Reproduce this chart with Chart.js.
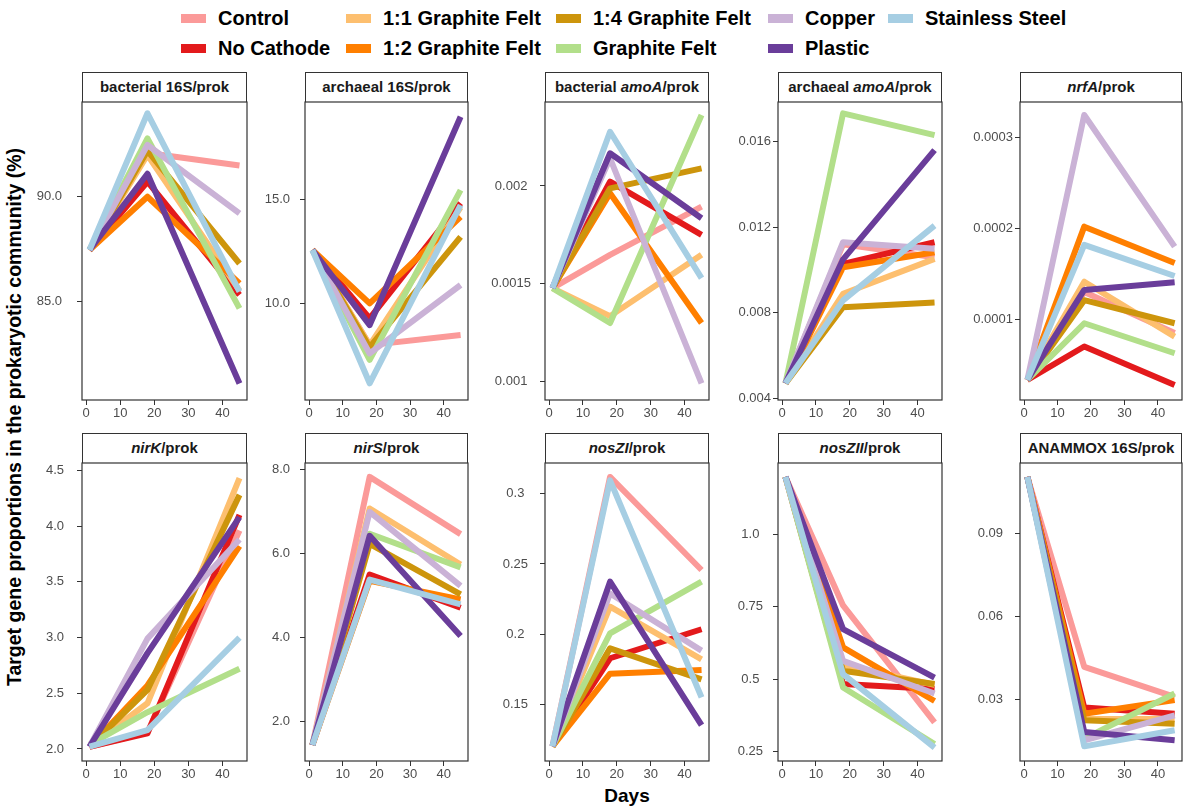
<!DOCTYPE html>
<html>
<head>
<meta charset="utf-8">
<script src="https://cdn.jsdelivr.net/npm/chart.js@4.4.1/dist/chart.umd.min.js"></script>
<style>
  body {
    margin: 0;
    width: 1184px;
    height: 807px;
    background: #fff;
    position: relative;
    overflow: hidden;
    font-family: "Liberation Sans", Arial, sans-serif;
  }
  .strip {
    position: absolute;
    box-sizing: border-box;
    border: 1.2px solid #333;
    border-bottom: none;
    background: #fff;
    font-weight: bold;
    font-size: 15px;
    line-height: 28px;
    text-align: center;
    color: #1a1a1a;
  }
  .panel { position: absolute; }
  .key { position: absolute; width: 25px; height: 9px; }
  .keylab { position: absolute; font-weight: bold; font-size: 20px; line-height: 22px; color: #000; white-space: nowrap; }
  #ytitle {
    position: absolute;
    left: 14px;
    top: 417px;
    transform: translate(-50%, -50%) rotate(-90deg);
    font-weight: bold;
    font-size: 19.5px;
    white-space: nowrap;
  }
  #xtitle {
    position: absolute;
    left: 627px;
    top: 796px;
    transform: translate(-50%, -50%);
    font-weight: bold;
    font-size: 19px;
  }
</style>
</head>
<body>
<div id="legend"></div>
<div id="ytitle">Target gene proportions in the prokaryotic community (%)</div>
<div id="xtitle">Days</div>
<script>
const days = [1, 18, 45];
const treatments = [
  "Control", "No Cathode", "1:1 Graphite Felt", "1:2 Graphite Felt",
  "1:4 Graphite Felt", "Graphite Felt", "Copper", "Plastic", "Stainless Steel",
];
const palette = [
  "#fb9a99", "#e31a1c", "#fdbf6f", "#ff7f00",
  "#cd950c", "#b2df8a", "#cab2d6", "#6a3d9a", "#a6cee3",
];

// rows follow the treatments order, columns follow days
const bacterial16S = [
  [87.45, 92.1, 91.5], [87.45, 90.72, 85.3], [87.45, 92.0, 85.5],
  [87.45, 90.0, 85.85], [87.45, 92.2, 86.8], [87.45, 92.8, 84.65],
  [87.45, 92.48, 89.2], [87.45, 91.1, 81.05], [87.45, 94.0, 85.45],
];
const archaeal16S = [
  [12.56, 8.0, 8.48], [12.56, 9.28, 14.8], [12.56, 8.0, 14.6],
  [12.56, 10.0, 14.15], [12.56, 7.9, 13.19], [12.56, 7.29, 15.43],
  [12.56, 7.6, 10.88], [12.56, 8.96, 18.94], [12.56, 6.17, 14.71],
];
const bacterialAmoA = [
  [0.001478, 0.001648, 0.001894], [0.001478, 0.002022, 0.00175],
  [0.001478, 0.001335, 0.001648], [0.001478, 0.001963, 0.0013],
  [0.001478, 0.001988, 0.00209], [0.001478, 0.0013, 0.002363],
  [0.001478, 0.002141, 0.000992], [0.001478, 0.002167, 0.001835],
  [0.001478, 0.002277, 0.001529],
];
const archaealAmoA = [
  [0.0047, 0.0112, 0.0106], [0.0047, 0.01029, 0.0113],
  [0.0047, 0.00889, 0.01052], [0.0047, 0.01013, 0.01083],
  [0.0047, 0.00826, 0.00848], [0.0047, 0.01733, 0.01631],
  [0.0047, 0.0113, 0.01099], [0.0047, 0.0105, 0.01561],
  [0.0047, 0.00858, 0.01208],
];
const nrfA = [
  [0.0000332, 0.00013, 0.000085], [0.0000332, 0.00007, 0.0000276],
  [0.0000332, 0.0001414, 0.0000809], [0.0000332, 0.000202, 0.000162],
  [0.0000332, 0.000121, 0.0000956], [0.0000332, 0.0000956, 0.0000626],
  [0.0000332, 0.000325, 0.00018], [0.0000332, 0.0001323, 0.0001408],
  [0.0000332, 0.000182, 0.0001477],
];
const nirK = [
  [2.02, 2.15, 3.96], [2.02, 2.14, 4.1], [2.02, 2.41, 4.43],
  [2.02, 2.57, 3.82], [2.02, 2.53, 4.28], [2.04, 2.33, 2.72],
  [2.02, 2.99, 3.88], [2.02, 2.86, 4.08], [2.02, 2.17, 3.0],
];
const nirS = [
  [1.45, 7.82, 6.46], [1.45, 5.5, 4.71], [1.45, 7.07, 5.74],
  [1.45, 5.35, 4.91], [1.45, 6.23, 5.03], [1.45, 6.47, 5.67],
  [1.45, 6.99, 5.23], [1.45, 6.42, 4.04], [1.45, 5.38, 4.79],
];
const nosZI = [
  [0.1204, 0.3118, 0.2457], [0.1204, 0.183, 0.2036], [0.1204, 0.2196, 0.1822],
  [0.1204, 0.172, 0.1747], [0.1204, 0.19, 0.168], [0.1204, 0.2007, 0.2374],
  [0.1204, 0.229, 0.1884], [0.1204, 0.2374, 0.1355], [0.1204, 0.3094, 0.1552],
];
const nosZII = [
  [1.2, 0.755, 0.35], [1.2, 0.483, 0.466], [1.2, 0.55, 0.48],
  [1.2, 0.61, 0.424], [1.2, 0.529, 0.483], [1.2, 0.471, 0.275],
  [1.2, 0.563, 0.45], [1.2, 0.673, 0.505], [1.2, 0.517, 0.263],
];
const anammox16S = [
  [0.1105, 0.0418, 0.031], [0.1105, 0.0271, 0.0249], [0.1105, 0.023, 0.023],
  [0.1105, 0.0249, 0.0298], [0.1105, 0.0225, 0.0213], [0.1105, 0.0159, 0.0322],
  [0.1105, 0.0153, 0.0243], [0.1105, 0.0183, 0.0153], [0.1105, 0.0131, 0.0189],
];

const dayTicks = [0, 10, 20, 30, 40];
const bacterial16STicks = [85, 90];
const bacterial16SLabels = ["85.0", "90.0"];
const archaeal16STicks = [10, 15];
const archaeal16SLabels = ["10.0", "15.0"];
const bacterialAmoATicks = [0.001, 0.0015, 0.002];
const bacterialAmoALabels = ["0.001", "0.0015", "0.002"];
const archaealAmoATicks = [0.004, 0.008, 0.012, 0.016];
const archaealAmoALabels = ["0.004", "0.008", "0.012", "0.016"];
const nrfATicks = [0.0001, 0.0002, 0.0003];
const nrfALabels = ["0.0001", "0.0002", "0.0003"];
const nirKTicks = [2, 2.5, 3, 3.5, 4, 4.5];
const nirKLabels = ["2.0", "2.5", "3.0", "3.5", "4.0", "4.5"];
const nirSTicks = [2, 4, 6, 8];
const nirSLabels = ["2.0", "4.0", "6.0", "8.0"];
const nosZITicks = [0.15, 0.2, 0.25, 0.3];
const nosZILabels = ["0.15", "0.2", "0.25", "0.3"];
const nosZIITicks = [0.25, 0.5, 0.75, 1.0];
const nosZIILabels = ["0.25", "0.5", "0.75", "1.0"];
const anammoxTicks = [0.03, 0.06, 0.09];
const anammoxLabels = ["0.03", "0.06", "0.09"];

// panel boxes on the page
const colLeft = [82, 305, 545, 778, 1020];
const colRight = [247, 468, 709, 942, 1182];
const rowTop = [102, 463];
const plotHeight = 298;
const axisRoom = 70;

const panels = [
  { title: "bacterial 16S/prok", values: bacterial16S, ticks: bacterial16STicks, labels: bacterial16SLabels, min: 80.26, max: 94.54, gap: 15 },
  { title: "archaeal 16S/prok", values: archaeal16S, ticks: archaeal16STicks, labels: archaeal16SLabels, min: 5.37, max: 19.65, gap: 10 },
  { title: "bacterial <i>amoA</i>/prok", values: bacterialAmoA, ticks: bacterialAmoATicks, labels: bacterialAmoALabels, min: 0.0009065, max: 0.002429, gap: 9 },
  { title: "archaeal <i>amoA</i>/prok", values: archaealAmoA, ticks: archaealAmoATicks, labels: archaealAmoALabels, min: 0.00392, max: 0.01786, gap: 2 },
  { title: "<i>nrfA</i>/prok", values: nrfA, ticks: nrfATicks, labels: nrfALabels, min: 0.0000111, max: 0.0003393, gap: 2 },
  { title: "<i>nirK</i>/prok", values: nirK, ticks: nirKTicks, labels: nirKLabels, min: 1.892, max: 4.566, gap: 13 },
  { title: "<i>nirS</i>/prok", values: nirS, ticks: nirSTicks, labels: nirSLabels, min: 1.07, max: 8.15, gap: 10 },
  { title: "<i>nosZI</i>/prok", values: nosZI, ticks: nosZITicks, labels: nosZILabels, min: 0.11, max: 0.3217, gap: 12 },
  { title: "<i>nosZII</i>/prok", values: nosZII, ticks: nosZIITicks, labels: nosZIILabels, min: 0.2164, max: 1.248, gap: 10 },
  { title: "ANAMMOX 16S/prok", values: anammox16S, ticks: anammoxTicks, labels: anammoxLabels, min: 0.0078, max: 0.1155, gap: 12 },
];

const frame = {
  id: "frame",
  afterDatasetsDraw(chart) {
    const a = chart.chartArea;
    const c = chart.ctx;
    c.save();
    c.strokeStyle = "#333";
    c.lineWidth = 1.2;
    c.strokeRect(a.left, a.top, a.right - a.left, a.bottom - a.top);
    c.restore();
  },
};

// legend, filled column by column like ggplot
const legend = document.getElementById("legend");
const keyLeft = [181, 181, 346, 346, 556, 556, 768, 768, 888];
const keyTop = [18, 48, 18, 48, 18, 48, 18, 48, 18];
treatments.forEach((name, i) => {
  const key = document.createElement("div");
  key.className = "key";
  key.style.left = keyLeft[i] + "px";
  key.style.top = keyTop[i] - 4 + "px";
  key.style.background = palette[i];
  legend.appendChild(key);
  const lab = document.createElement("div");
  lab.className = "keylab";
  lab.textContent = name;
  lab.style.left = keyLeft[i] + 37 + "px";
  lab.style.top = keyTop[i] - 11 + "px";
  legend.appendChild(lab);
});

panels.forEach((p, k) => {
  const col = k % 5;
  const row = Math.floor(k / 5);
  const L = colLeft[col];
  const R = colRight[col];
  const T = rowTop[row];

  const strip = document.createElement("div");
  strip.className = "strip";
  strip.innerHTML = p.title;
  strip.style.left = L + "px";
  strip.style.top = T - 30 + "px";
  strip.style.width = R - L + "px";
  strip.style.height = "30px";
  document.body.appendChild(strip);

  const canvas = document.createElement("canvas");
  canvas.className = "panel";
  const w = R - L + axisRoom + 3;
  const h = plotHeight + 2 + 26;
  canvas.width = w;
  canvas.height = h;
  canvas.style.width = w + "px";
  canvas.style.height = h + "px";
  canvas.style.left = L - axisRoom + "px";
  canvas.style.top = T - 2 + "px";
  document.body.appendChild(canvas);

  new Chart(canvas, {
    type: "line",
    data: {
      datasets: treatments.map((name, i) => ({
        label: name,
        data: days.map((d, j) => ({ x: d, y: p.values[i][j] })),
        borderColor: palette[i],
        borderWidth: 6,
        borderJoinStyle: "round",
        pointRadius: 0,
        tension: 0,
        clip: 0,
        order: treatments.length - 1 - i,
      })),
    },
    options: {
      responsive: false,
      animation: false,
      layout: { padding: { top: 2, right: 3, left: 0, bottom: 0 } },
      plugins: { legend: { display: false }, tooltip: { enabled: false } },
      scales: {
        x: {
          type: "linear",
          min: -1.2,
          max: 47.2,
          afterBuildTicks: (s) => {
            s.ticks = dayTicks.map((v) => ({ value: v }));
          },
          afterFit: (s) => {
            s.height = 26;
            s.paddingLeft = 0;
            s.paddingRight = 0;
          },
          ticks: {
            color: "#4d4d4d",
            font: { family: "Liberation Sans", size: 13 },
            padding: 1,
            maxRotation: 0,
            autoSkip: false,
          },
          grid: { drawOnChartArea: false, drawTicks: true, tickLength: 5, color: "#333" },
          border: { display: false },
        },
        y: {
          type: "linear",
          min: p.min,
          max: p.max,
          afterBuildTicks: (s) => {
            s.ticks = p.ticks.map((v) => ({ value: v }));
          },
          afterFit: (s) => {
            s.width = axisRoom;
            s.paddingTop = 0;
            s.paddingBottom = 0;
          },
          ticks: {
            color: "#4d4d4d",
            font: { family: "Liberation Sans", size: 13 },
            padding: p.gap,
            crossAlign: "center",
            autoSkip: false,
            callback: (value, index) => p.labels[index],
          },
          grid: { drawOnChartArea: false, drawTicks: true, tickLength: 5, color: "#333" },
          border: { display: false },
        },
      },
    },
    plugins: [frame],
  });
});
</script>
</body>
</html>
